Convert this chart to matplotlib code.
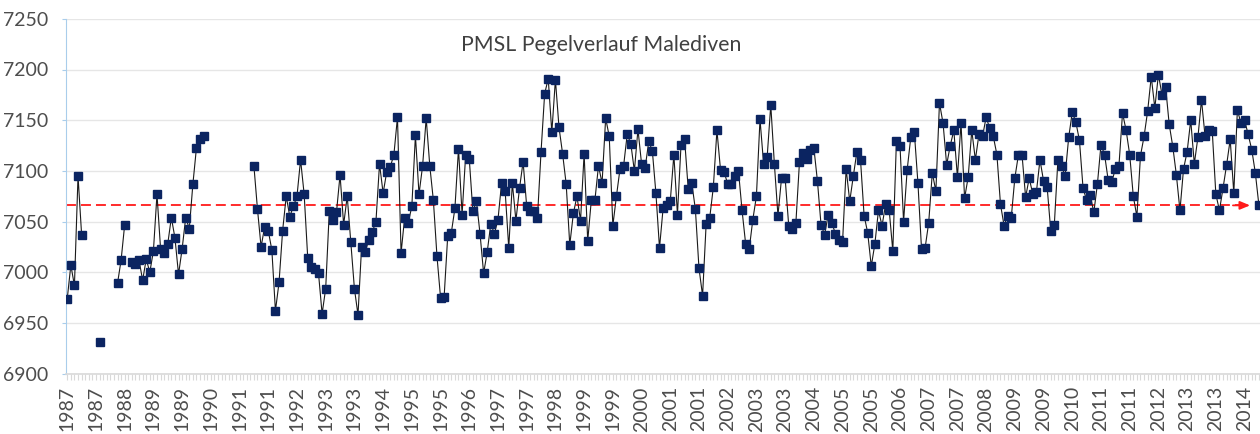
import matplotlib
matplotlib.use("Agg")
import matplotlib.pyplot as plt
import numpy as np
import pandas as pd

N = None  # month without a gauge reading

# monthly PMSL levels (mm), one list per year, Jan..Dec
lvl_1987 = [6974, 7007, 6987, 7095, 7037, N, N, N, N, 6931, N, N]
lvl_1988 = [N, N, 6989, 7012, 7047, N, 7010, 7008, 7012, 6992, 7013, 7000]
lvl_1989 = [7021, 7077, 7023, 7019, 7028, 7054, 7034, 6998, 7023, 7054, 7043, 7087]
lvl_1990 = [7123, 7131, 7134, N, N, N, N, N, N, N, N, N]
lvl_1991 = [N, N, N, N, 7105, 7062, 7025, 7045, 7041, 7022, 6962, 6990]
lvl_1992 = [7041, 7075, 7055, 7065, 7075, 7111, 7077, 7014, 7005, 7003, 6999, 6959]
lvl_1993 = [6984, 7060, 7052, 7059, 7096, 7047, 7075, 7030, 6984, 6958, 7025, 7020]
lvl_1994 = [7032, 7040, 7050, 7107, 7078, 7099, 7104, 7116, 7153, 7019, 7054, 7049]
lvl_1995 = [7065, 7135, 7077, 7105, 7152, 7105, 7071, 7016, 6975, 6976, 7036, 7039]
lvl_1996 = [7063, 7122, 7057, 7116, 7112, 7060, 7070, 7038, 6999, 7020, 7048, 7038]
lvl_1997 = [7052, 7088, 7080, 7024, 7088, 7051, 7083, 7109, 7065, 7060, 7060, 7054]
lvl_1998 = [7119, 7176, 7191, 7138, 7190, 7143, 7117, 7087, 7027, 7058, 7075, 7051]
lvl_1999 = [7117, 7031, 7071, 7071, 7105, 7088, 7152, 7134, 7046, 7075, 7102, 7105]
lvl_2000 = [7136, 7127, 7100, 7141, 7107, 7103, 7129, 7120, 7078, 7024, 7063, 7066]
lvl_2001 = [7070, 7116, 7057, 7126, 7131, 7082, 7088, 7062, 7004, 6977, 7048, 7054]
lvl_2002 = [7084, 7140, 7101, 7099, 7087, 7087, 7095, 7100, 7061, 7028, 7023, 7052]
lvl_2003 = [7075, 7151, 7107, 7114, 7165, 7107, 7056, 7093, 7093, 7046, 7043, 7049]
lvl_2004 = [7109, 7118, 7112, 7121, 7123, 7090, 7047, 7037, 7057, 7049, 7038, 7032]
lvl_2005 = [7030, 7102, 7070, 7095, 7119, 7111, 7056, 7039, 7006, 7028, 7061, 7046]
lvl_2006 = [7067, 7061, 7021, 7129, 7125, 7050, 7101, 7133, 7138, 7088, 7023, 7024]
lvl_2007 = [7049, 7098, 7080, 7167, 7147, 7106, 7125, 7140, 7094, 7147, 7073, 7094]
lvl_2008 = [7140, 7111, 7136, 7134, 7153, 7142, 7134, 7116, 7067, 7046, 7056, 7054]
lvl_2009 = [7093, 7116, 7116, 7074, 7093, 7077, 7079, 7111, 7090, 7084, 7041, 7047]
lvl_2010 = [7111, 7105, 7095, 7133, 7158, 7148, 7130, 7083, 7071, 7076, 7059, 7087]
lvl_2011 = [7126, 7116, 7091, 7089, 7102, 7105, 7157, 7140, 7116, 7075, 7055, 7115]
lvl_2012 = [7134, 7159, 7193, 7162, 7195, 7175, 7183, 7146, 7124, 7096, 7061, 7102]
lvl_2013 = [7119, 7150, 7107, 7133, 7170, 7134, 7140, 7139, 7077, 7061, 7083, 7106]
lvl_2014 = [7131, 7078, 7160, 7147, 7150, 7136, 7121, 7098, 7066]

ref_level = 7066      # red dashed reference line
label_step = 8        # one year label every 8 months
title = "PMSL Pegelverlauf Malediven"

years = [lvl_1987, lvl_1988, lvl_1989, lvl_1990, lvl_1991, lvl_1992, lvl_1993,
         lvl_1994, lvl_1995, lvl_1996, lvl_1997, lvl_1998, lvl_1999, lvl_2000,
         lvl_2001, lvl_2002, lvl_2003, lvl_2004, lvl_2005, lvl_2006, lvl_2007,
         lvl_2008, lvl_2009, lvl_2010, lvl_2011, lvl_2012, lvl_2013, lvl_2014]
values = np.array([np.nan if v is None else v for yr in years for v in yr], dtype=float)
months = pd.period_range("1987-01", periods=len(values), freq="M")
x = np.arange(len(values))

plt.rcParams['font.family'] = ['Lato', 'DejaVu Sans']

fig = plt.figure(figsize=(12.6, 4.34), dpi=100)
ax = fig.add_axes([66 / 1260, 1 - 373.7 / 434, 1 - 66 / 1260, (373.7 - 18.8) / 434])

ax.plot(x, values, color='#1a1a1a', lw=0.8, marker='s', ms=5.3,
        mfc='#0B2461', mec='#0B2461', zorder=3)

# reference level with arrow at the right end
trans = ax.get_yaxis_transform()
ax.plot([0, 0.985], [ref_level, ref_level], transform=trans, color='#FF1A1A',
        lw=1.3, dashes=(5.5, 2.8), zorder=2.5)
ax.annotate('', xy=(0.994, ref_level), xytext=(0.975, ref_level), xycoords=trans,
            arrowprops=dict(arrowstyle='-|>,head_length=0.6,head_width=0.25',
                            color='#FF1A1A', lw=1.3), zorder=2.5)

ax.set_ylim(6900, 7250)
ax.set_yticks(range(6900, 7251, 50))
ax.set_xlim(-0.35, 332.3)
ticks = x[::label_step]
ax.set_xticks(ticks)
ax.set_xticklabels([str(months[i].year) for i in ticks], rotation=90)
ax.set_xticks(x, minor=True)

ax.yaxis.grid(True, color='#E6E6E6', lw=1)
ax.set_axisbelow(True)
for s in ['top', 'right']:
    ax.spines[s].set_visible(False)
ax.spines['left'].set_color('#A9CDEB')
ax.spines['bottom'].set_color('#D9D9D9')
ax.spines['bottom'].set_linewidth(1.2)

ax.tick_params(axis='y', colors='#A9CDEB', labelcolor='#4D4D4D', labelsize=14,
               length=3, pad=10)
ax.tick_params(axis='x', which='both', colors='#D9D9D9', labelcolor='#4D4D4D',
               labelsize=14, length=4, width=0.8, pad=5)

ax.text(0.4485, 0.926, title, transform=ax.transAxes, ha='center', va='center',
        fontsize=15.3, color='#404040')

plt.savefig("out.png", dpi=100)
